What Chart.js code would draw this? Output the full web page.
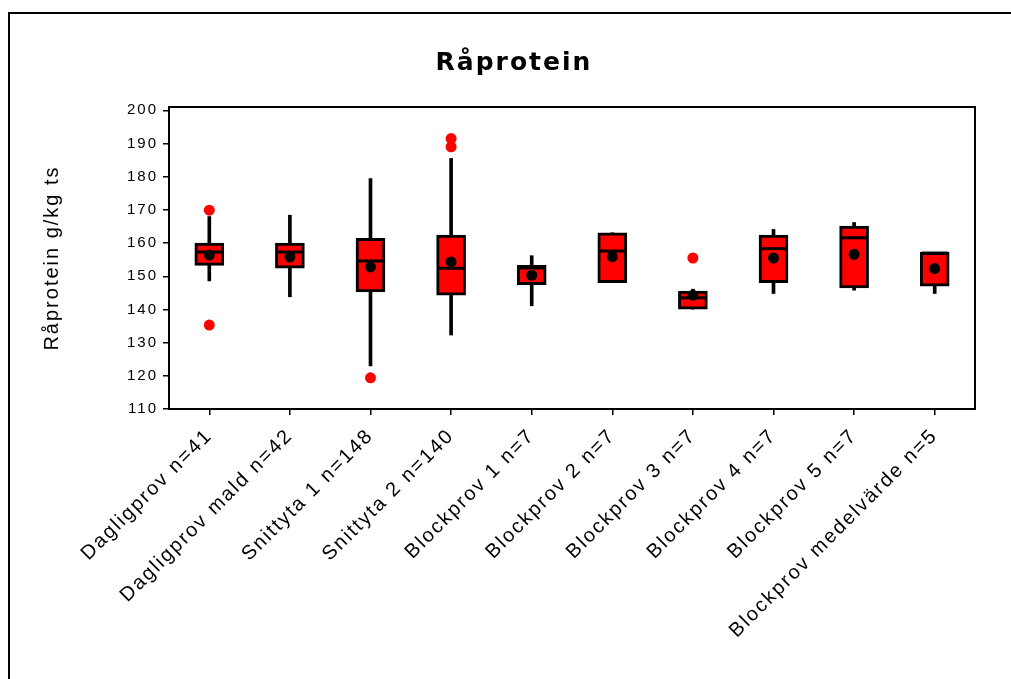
<!DOCTYPE html>
<html>
<head>
<meta charset="utf-8">
<script src="https://cdn.jsdelivr.net/npm/chart.js@4/dist/chart.umd.min.js"></script>
<style>
  html, body { margin: 0; padding: 0; background: #fff; }
  #c { display: block; }
</style>
</head>
<body>
<canvas id="c" width="1011" height="679"></canvas>
<script>
// ---- Data ----
const categories = [
  'Dagligprov n=41', 'Dagligprov mald n=42', 'Snittyta 1 n=148', 'Snittyta 2 n=140',
  'Blockprov 1 n=7', 'Blockprov 2 n=7', 'Blockprov 3 n=7', 'Blockprov 4 n=7',
  'Blockprov 5 n=7', 'Blockprov medelvärde n=5'
];
const whiskerLow  = [148.6, 143.8, 123.0, 132.3, 141.1, 148.1, 140.1, 144.8, 145.8, 144.8];
const q1          = [153.3, 152.4, 145.3, 144.3, 147.5, 148.1, 140.1, 148.1, 146.5, 147.0];
const median      = [157.3, 157.3, 154.6, 152.4, 152.5, 157.6, 143.5, 158.3, 161.6, 157.0];
const q3          = [160.0, 160.0, 161.4, 162.4, 153.3, 163.1, 145.5, 162.4, 165.1, 157.2];
const whiskerHigh = [168.0, 168.4, 179.4, 185.5, 156.2, 163.1, 146.1, 164.1, 166.2, 157.2];
const means       = [156.4, 155.8, 152.8, 154.3, 150.3, 155.9, 144.3, 155.5, 156.6, 152.3];
const outlierCats = ['Dagligprov n=41', 'Dagligprov n=41', 'Snittyta 1 n=148', 'Snittyta 2 n=140', 'Snittyta 2 n=140', 'Blockprov 3 n=7'];
const outlierVals = [169.9, 135.3, 119.4, 191.5, 189.0, 155.5];
const yTicks = [110, 120, 130, 140, 150, 160, 170, 180, 190, 200];
const titleText = 'Råprotein';
const yTitleText = 'Råprotein g/kg ts';

// ---- Plugins ----
const spacingPlugin = {
  id: 'spacing',
  beforeUpdate(c) { c.ctx.letterSpacing = '2px'; },
  beforeLayout(c) { c.ctx.letterSpacing = '2px'; },
  beforeDraw(c) { c.ctx.letterSpacing = '2px'; }
};
const framePlugin = {
  id: 'frame',
  beforeDraw(c) {
    const ctx = c.ctx;
    ctx.save();
    ctx.fillStyle = '#fff';
    ctx.fillRect(0, 0, c.width, c.height);
    ctx.strokeStyle = '#000';
    ctx.lineWidth = 2;
    ctx.beginPath();
    ctx.moveTo(c.width, 13);
    ctx.lineTo(9, 13);
    ctx.lineTo(9, c.height);
    ctx.stroke();
    ctx.restore();
  },
  beforeDatasetsDraw(c) {
    const a = c.chartArea, ctx = c.ctx;
    ctx.save();
    ctx.strokeStyle = '#000';
    ctx.lineWidth = 2;
    ctx.strokeRect(a.left, a.top, a.right - a.left, a.bottom - a.top);
    ctx.restore();
  }
};

const chart = new Chart(document.getElementById('c'), {
  type: 'bar',
  data: {
    labels: categories,
    datasets: [
      {
        type: 'bar', label: 'whisker', order: 5,
        data: categories.map((_, i) => [whiskerLow[i], whiskerHigh[i]]),
        backgroundColor: '#000', borderWidth: 0,
        barThickness: 3, grouped: false
      },
      {
        type: 'bar', label: 'box', order: 4,
        data: categories.map((_, i) => [q1[i], q3[i]]),
        backgroundColor: '#ff0000', borderColor: '#000', borderWidth: 3,
        borderSkipped: false, barThickness: 29, grouped: false
      },
      {
        type: 'line', label: 'median', order: 3, showLine: false,
        data: categories.map((c, i) => ({ x: c, y: median[i] })),
        pointStyle: 'line', pointRadius: 13, pointBorderWidth: 3,
        pointBorderColor: '#000', pointBackgroundColor: '#000'
      },
      {
        type: 'line', label: 'mean', order: 2, showLine: false,
        data: categories.map((c, i) => ({ x: c, y: means[i] })),
        pointStyle: 'circle', pointRadius: 5.5, pointBorderWidth: 0,
        pointBackgroundColor: '#000', pointBorderColor: '#000'
      },
      {
        type: 'line', label: 'outlier', order: 1, showLine: false,
        data: outlierCats.map((c, i) => ({ x: c, y: outlierVals[i] })),
        pointStyle: 'circle', pointRadius: 5.5, pointBorderWidth: 0,
        pointBackgroundColor: '#ff0000', pointBorderColor: '#ff0000'
      }
    ]
  },
  options: {
    responsive: false,
    animation: false,
    devicePixelRatio: 1,
    layout: { padding: { left: 17, right: 0, top: 0, bottom: 0 } },
    plugins: {
      legend: { display: false },
      tooltip: { enabled: false },
      title: {
        display: true, text: titleText, color: '#000',
        font: { family: 'DejaVu Sans', size: 25, weight: 'bold', lineHeight: 1.2 },
        padding: { top: 48, bottom: 29 }
      }
    },
    scales: {
      x: {
        type: 'category',
        offset: true,
        grid: { display: true, drawOnChartArea: false, drawTicks: true, tickLength: 6, color: '#000', lineWidth: 1.5, offset: false },
        border: { display: true, color: '#000', width: 2 },
        ticks: {
          color: '#000', autoSkip: false, minRotation: 45, maxRotation: 45, padding: 9,
          font: { family: 'Liberation Sans', size: 20 }
        },
        afterFit(s) { s.height = 679 - 409; }
      },
      y: {
        type: 'linear',
        min: 110, max: 201,
        afterBuildTicks(s) { s.ticks = yTicks.map(v => ({ value: v })); },
        grid: { display: true, drawOnChartArea: false, drawTicks: true, tickLength: 6, color: '#000', lineWidth: 1.5 },
        border: { display: true, color: '#000', width: 2 },
        ticks: { color: '#000', padding: 5, font: { family: 'Liberation Sans', size: 15 } },
        title: {
          display: true, text: yTitleText, color: '#000',
          font: { family: 'Liberation Sans', size: 20 }, padding: { top: 23, bottom: 0 }
        },
        afterFit(s) { s.width = 152; }
      },
      yRight: {
        type: 'linear', position: 'right', display: true,
        min: 110, max: 201,
        grid: { display: false, drawTicks: false },
        border: { display: false },
        ticks: { display: false },
        afterFit(s) { s.width = 36; }
      }
    }
  },
  plugins: [spacingPlugin, framePlugin]
});
</script>
</body>
</html>
